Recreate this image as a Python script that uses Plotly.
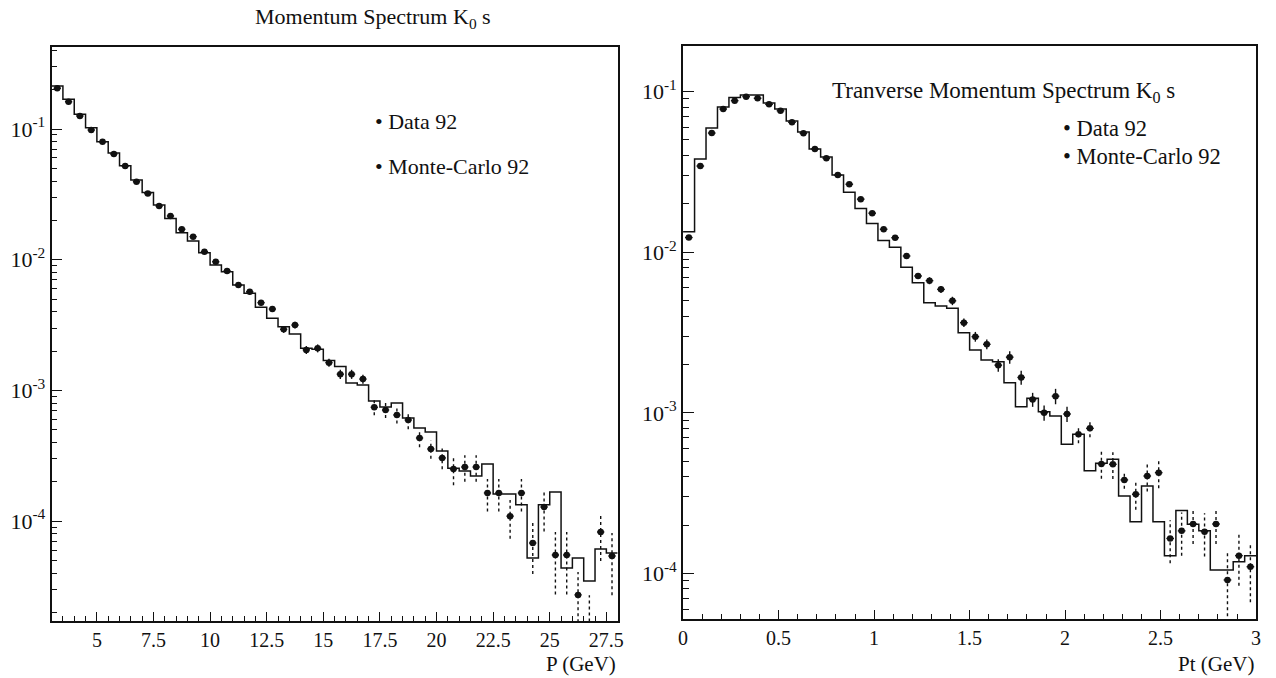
import numpy as np
import plotly.graph_objects as go

# ---------------- binning ----------------
P_MIN, P_BIN, P_NBINS = 3.0, 0.5, 50
PT_MIN, PT_BIN, PT_NBINS = 0.0, 0.06, 50

# ---------------- momentum spectrum (left) ----------------
p_data = [0.2049, 0.1618, 0.1257, 0.0982, 0.0799, 0.0644, 0.0521, 0.0395, 0.0321, 0.0257,
          0.0216, 0.0171, 0.0150, 0.0115, 0.00965, 0.00819, 0.00640, 0.00569, 0.00469, 0.00419,
          0.00293, 0.00316, 0.00204, 0.00210, 0.00163, 0.00133, 0.00133, 0.00122, 0.000742, 0.000707,
          0.000648, 0.000593, 0.000432, 0.000356, 0.000304, 0.000250, 0.000259, 0.000259, 0.000164, 0.000164,
          0.000109, 0.000164, 0.0000679, 0.000128, 0.0000549, 0.0000549, 0.0000272, 0.0000140, 0.0000824, 0.0000540]
p_relerr = [0.02, 0.02, 0.02, 0.02, 0.02, 0.02, 0.02, 0.02, 0.02, 0.03,
            0.03, 0.03, 0.03, 0.04, 0.04, 0.04, 0.04, 0.05, 0.05, 0.05,
            0.06, 0.06, 0.07, 0.07, 0.07, 0.08, 0.08, 0.08, 0.13, 0.13,
            0.14, 0.15, 0.15, 0.16, 0.18, 0.25, 0.23, 0.23, 0.28, 0.28,
            0.33, 0.28, 0.42, 0.35, 0.50, 0.50, 0.50, 0.93, 0.40, 0.50]
p_mc = [0.2134, 0.1688, 0.1296, 0.1023, 0.0799, 0.0655, 0.0524, 0.0407, 0.0326, 0.0262,
        0.0207, 0.0161, 0.0139, 0.0113, 0.00910, 0.00809, 0.00640, 0.00553, 0.00432, 0.00356,
        0.00307, 0.00270, 0.00210, 0.00206, 0.00169, 0.00152, 0.00114, 0.00110, 0.000829, 0.000746,
        0.000800, 0.000614, 0.000515, 0.000480, 0.000343, 0.000254, 0.000241, 0.000221, 0.000273, 0.000161,
        0.000161, 0.000133, 0.0000521, 0.000133, 0.000167, 0.0000437, 0.0000521, 0.0000347, 0.0000611, 0.0000569]

# ---------------- transverse momentum spectrum (right) ----------------
pt_data = [0.01234, 0.0344, 0.0552, 0.0779, 0.0878, 0.0930, 0.0909, 0.0833, 0.0760, 0.0644,
           0.0550, 0.0439, 0.0384, 0.0302, 0.0265, 0.0214, 0.0175, 0.0139, 0.01231, 0.00947,
           0.00711, 0.00665, 0.00587, 0.00498, 0.00364, 0.00298, 0.00267, 0.00198, 0.00222, 0.00166,
           0.00121, 0.001001, 0.00127, 0.000983, 0.000735, 0.000800, 0.000480, 0.000478, 0.000382, 0.000311,
           0.000404, 0.000424, 0.000165, 0.000184, 0.000203, 0.000182, 0.000203, 0.0000910, 0.000129, 0.000110]
pt_relerr = [0.02, 0.02, 0.02, 0.02, 0.02, 0.02, 0.02, 0.02, 0.02, 0.02,
             0.02, 0.02, 0.02, 0.02, 0.02, 0.02, 0.03, 0.03, 0.03, 0.04,
             0.04, 0.05, 0.05, 0.06, 0.06, 0.07, 0.07, 0.09, 0.09, 0.10,
             0.10, 0.11, 0.11, 0.11, 0.12, 0.12, 0.19, 0.19, 0.12, 0.20,
             0.20, 0.20, 0.30, 0.30, 0.25, 0.30, 0.25, 0.50, 0.35, 0.40]
pt_mc = [0.01342, 0.0380, 0.0593, 0.0802, 0.0919, 0.0952, 0.0952, 0.0849, 0.0779, 0.0656,
         0.0560, 0.0439, 0.0392, 0.0302, 0.0236, 0.0187, 0.0151, 0.01184, 0.01072, 0.00805,
         0.00646, 0.00485, 0.00462, 0.00447, 0.00315, 0.00246, 0.00213, 0.00208, 0.00154, 0.00109,
         0.00123, 0.001016, 0.000955, 0.000637, 0.000735, 0.000436, 0.000485, 0.000514, 0.000303, 0.000210,
         0.000350, 0.000210, 0.000129, 0.000246, 0.000202, 0.000184, 0.000105, 0.000105, 0.000118, 0.000129]

# ---------------- axis ticks ----------------
p_ticks = [5, 7.5, 10, 12.5, 15, 17.5, 20, 22.5, 25, 27.5]
p_ticklabels = ["5", "7.5", "10", "12.5", "15", "17.5", "20", "22.5", "25", "27.5"]
pt_ticks = [0, 0.5, 1, 1.5, 2, 2.5, 3]
pt_ticklabels = ["0", "0.5", "1", "1.5", "2", "2.5", "3"]
decades = [1e-1, 1e-2, 1e-3, 1e-4]
decade_labels = ["10<sup>-1</sup>", "10<sup>-2</sup>", "10<sup>-3</sup>", "10<sup>-4</sup>"]

FONT = "Liberation Serif"
INK = "#111111"
W, H = 1276, 678


def add_panel(fig, xa, ya, xmin, width, nbins, data, relerr, mc, xerr, dash_from):
    edges = xmin + width * np.arange(nbins + 1)
    centers = xmin + width * (np.arange(nbins) + 0.5)
    data = np.asarray(data)
    err = data * np.asarray(relerr)

    # Monte-Carlo histogram drawn as a step line
    fig.add_trace(go.Scatter(
        x=edges, y=list(mc) + [mc[-1]], mode="lines", line=dict(color=INK, width=1.5, shape="hv"),
        xaxis=xa, yaxis=ya, showlegend=False, hoverinfo="skip"))

    # vertical error bars (dashed where the errors are large)
    for dashed in (False, True):
        xs, ys = [], []
        for c, v, e, r in zip(centers, data, err, relerr):
            if (r >= dash_from) != dashed:
                continue
            xs += [c, c, None]
            ys += [max(v - e, 1e-7), v + e, None]
        fig.add_trace(go.Scatter(
            x=xs, y=ys, mode="lines",
            line=dict(color=INK, width=1.4, dash="3px,3px" if dashed else "solid"),
            xaxis=xa, yaxis=ya, showlegend=False, hoverinfo="skip"))

    # data points
    fig.add_trace(go.Scatter(
        x=centers, y=data, mode="markers",
        marker=dict(color=INK, size=6.5, symbol="circle"),
        error_x=dict(type="constant", value=xerr, color=INK, thickness=1.4, width=0),
        xaxis=xa, yaxis=ya, showlegend=False, cliponaxis=True))


fig = go.Figure()
add_panel(fig, "x", "y", P_MIN, P_BIN, P_NBINS, p_data, p_relerr, p_mc, 0.16, 0.12)
add_panel(fig, "x2", "y2", PT_MIN, PT_BIN, PT_NBINS, pt_data, pt_relerr, pt_mc, 0.02, 0.12)

minor_log = [k * 10.0 ** d for d in range(-6, 0) for k in range(2, 10)]

axis_common = dict(showline=True, linecolor=INK, linewidth=1.8, mirror=True,
                   showgrid=False, zeroline=False, ticks="inside", tickcolor=INK,
                   tickwidth=1.4)
xfont = dict(family=FONT, size=20, color=INK)
yfont = dict(family=FONT, size=22, color=INK)

fig.update_layout(
    width=W, height=H, autosize=False,
    margin=dict(l=0, r=0, t=0, b=0),
    paper_bgcolor="white", plot_bgcolor="white",
    xaxis=dict(domain=[47 / W, 618 / W], range=[P_MIN, P_MIN + P_BIN * P_NBINS],
               tickmode="array", tickvals=p_ticks, ticktext=p_ticklabels, ticklen=9, tickfont=xfont,
               minor=dict(tickmode="array", tickvals=list(np.arange(3.5, 28, 0.5)),
                          ticks="inside", ticklen=5, tickcolor=INK, tickwidth=1.2),
               anchor="y", **axis_common),
    yaxis=dict(domain=[1 - 621 / H, 1 - 47 / H], type="log", range=[-4.765, -0.3725],
               tickmode="array", tickvals=decades, ticktext=decade_labels, ticklen=11, tickfont=yfont,
               minor=dict(tickmode="array", tickvals=minor_log, ticks="inside", ticklen=6,
                          tickcolor=INK, tickwidth=1.2),
               anchor="x", **axis_common),
    xaxis2=dict(domain=[684 / W, 1262 / W], range=[PT_MIN, PT_MIN + PT_BIN * PT_NBINS],
                tickmode="array", tickvals=pt_ticks, ticktext=pt_ticklabels, ticklen=9, tickfont=xfont,
                minor=dict(tickmode="array", tickvals=[round(0.1 * k, 1) for k in range(1, 30)],
                           ticks="inside", ticklen=5, tickcolor=INK, tickwidth=1.2),
                anchor="y2", **axis_common),
    yaxis2=dict(domain=[1 - 619 / H, 1 - 46 / H], type="log", range=[-4.284, -0.716],
                tickmode="array", tickvals=decades, ticktext=decade_labels, ticklen=11, tickfont=yfont,
                minor=dict(tickmode="array", tickvals=minor_log, ticks="inside", ticklen=6,
                           tickcolor=INK, tickwidth=1.2),
                anchor="x2", **axis_common),
)

txt = dict(family=FONT, color=INK)
annotations = [
    dict(text="Momentum Spectrum K<sub>0</sub> s", x=371 / W, y=1 - 18 / H, xanchor="center",
         font=dict(size=22, **txt)),
    dict(text="• Data 92", x=371 / W, y=1 - 122 / H, xanchor="left", font=dict(size=22, **txt)),
    dict(text="• Monte-Carlo 92", x=371 / W, y=1 - 167 / H, xanchor="left", font=dict(size=22, **txt)),
    dict(text="P (GeV)", x=618 / W, y=1 - 664 / H, xanchor="right", font=dict(size=21, **txt)),
    dict(text="Tranverse Momentum Spectrum K<sub>0</sub> s", x=832 / W, y=1 - 92 / H, xanchor="left",
         font=dict(size=23, **txt)),
    dict(text="• Data 92", x=1065 / W, y=1 - 128 / H, xanchor="left", font=dict(size=22.5, **txt)),
    dict(text="• Monte-Carlo 92", x=1065 / W, y=1 - 156 / H, xanchor="left", font=dict(size=22.5, **txt)),
    dict(text="Pt (GeV)", x=1262 / W, y=1 - 664 / H, xanchor="right", font=dict(size=21, **txt)),
]
for a in annotations:
    a.update(xref="paper", yref="paper", showarrow=False, yanchor="middle")
fig.update_layout(annotations=annotations)

fig.write_html("out.html")
